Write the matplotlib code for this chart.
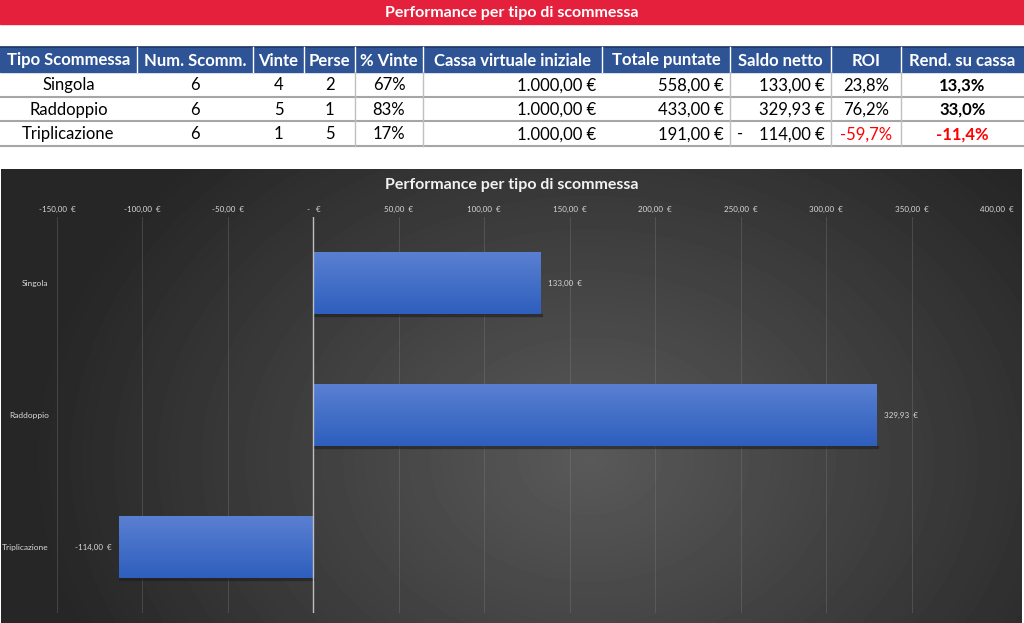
import matplotlib
matplotlib.use('Agg')
import matplotlib.pyplot as plt
from matplotlib.patches import Rectangle
import numpy as np

# data
tipi = ['Singola', 'Raddoppio', 'Triplicazione']
num_scommesse = [6, 6, 6]
vinte = [4, 5, 1]
perse = [2, 1, 5]
pct_vinte = [67, 83, 17]
cassa_iniziale = [1000.00, 1000.00, 1000.00]
totale_puntate = [558.00, 433.00, 191.00]
saldo_netto = [133.00, 329.93, -114.00]
roi = [23.8, 76.2, -59.7]
rend_cassa = [13.3, 33.0, -11.4]
headers = ['Tipo Scommessa', 'Num. Scomm.', 'Vinte', 'Perse', '% Vinte',
           'Cassa virtuale iniziale', 'Totale puntate', 'Saldo netto', 'ROI',
           'Rend. su cassa']
x_ticks = [-150, -100, -50, 0, 50, 100, 150, 200, 250, 300, 350, 400]
titolo = 'Performance per tipo di scommessa'

plt.rcParams['font.family'] = ['Lato', 'DejaVu Sans']


def it_num(v, dec):
    s = f'{abs(v):,.{dec}f}'
    s = s.replace(',', 'X').replace('.', ',').replace('X', '.')
    return ('-' if v < 0 else '') + s


def eur(v, sep=' '):
    return it_num(v, 2) + sep + '€'


W, H = 1024, 623
fig = plt.figure(figsize=(W / 100, H / 100), dpi=100)
bg = fig.add_axes([0, 0, 1, 1])
bg.set_xlim(0, W)
bg.set_ylim(H, 0)
bg.axis('off')

# red title bar
bg.add_patch(Rectangle((0, 0), W, 24, color='#E5203C', zorder=1))
bg.text(W / 2, 13, titolo, color='white', fontsize=11.5, fontweight='bold',
        ha='center', va='center', zorder=2)

# table
edges = [0, 137, 253, 304, 355, 423, 602, 730, 831, 901, 1024]
aligns = ['center', 'center', 'center', 'center', 'center', 'right', 'right',
          'right', 'center', 'center']
top, hh, rh = 47, 25, 24.5
bg.add_patch(Rectangle((0, top), W, hh, color='#2F5496', zorder=1))
bg.plot([0, W], [top, top], color='#1F3864', lw=1.2, zorder=2)
for i, h in enumerate(headers):
    bg.text((edges[i] + edges[i + 1]) / 2, top + hh / 2 + 1, h, color='white',
            fontsize=12, fontweight='bold', ha='center', va='center', zorder=3)
for x in edges[1:-1]:
    bg.plot([x, x], [top, top + hh], color='white', lw=1, zorder=2)

for r in range(len(tipi)):
    yc = top + hh + rh * r + rh / 2 + 1
    cells = [tipi[r], str(num_scommesse[r]), str(vinte[r]), str(perse[r]),
             f'{pct_vinte[r]}%', eur(cassa_iniziale[r]), eur(totale_puntate[r]),
             eur(abs(saldo_netto[r])), it_num(roi[r], 1) + '%',
             it_num(rend_cassa[r], 1) + '%']
    for c, txt in enumerate(cells):
        a = aligns[c]
        x = (edges[c] + edges[c + 1]) / 2 if a == 'center' else edges[c + 1] - 6
        color = 'black'
        weight = 'bold' if c == 9 else 'normal'
        if c == 8 and roi[r] < 0:
            color = '#FF0000'
        if c == 9 and rend_cassa[r] < 0:
            color = '#FF0000'
        bg.text(x, yc, txt, fontsize=12, color=color, fontweight=weight,
                ha=a, va='center', zorder=3)
    if saldo_netto[r] < 0:
        bg.text(edges[7] + 7, yc, '-', fontsize=12, ha='left', va='center')
    yb = top + hh + rh * (r + 1)
    bg.plot([0, W], [yb, yb], color='#A6A6A6', lw=1.5, zorder=2)
for x in [355, 423, 730, 831, 901]:
    bg.plot([x, x], [top + hh, top + hh + 3 * rh], color='#BFBFBF', lw=1, zorder=2)

# chart background with radial gradient
cx0, cx1, cy0, cy1 = 1, 1022, 169, 623
gx, gy = np.meshgrid(np.linspace(cx0, cx1, 300), np.linspace(cy0, cy1, 150))
d = np.sqrt(((gx - 590) / 560) ** 2 + ((gy - 460) / 430) ** 2)
shade = np.clip(0.35 - 0.2 * d, 0.15, 0.35)
bg.imshow(shade, cmap='gray', vmin=0, vmax=1, extent=[cx0, cx1, cy1, cy0],
          aspect='auto', zorder=0, interpolation='bilinear')
bg.text(512, 185, titolo, color='#F2F2F2', fontsize=11.5, fontweight='bold',
        ha='center', va='center', zorder=3)

# bar chart
ax = fig.add_axes([57 / W, 1 - 613 / H, (997 - 57) / W, (613 - 217) / H])
ax.patch.set_alpha(0)
ypos = np.arange(len(tipi))
bars = ax.barh(ypos, saldo_netto, height=0.47, color='#4472C4', zorder=3)
grad = np.linspace(0, 1, 64).reshape(-1, 1)
cmap = matplotlib.colors.LinearSegmentedColormap.from_list('b', ['#5A80D2', '#2E5FBD'])
for b in bars:
    x0, y0 = b.get_x(), b.get_y()
    w, hgt = b.get_width(), b.get_height()
    ax.add_patch(Rectangle((x0 + 0.5, y0 + hgt), w, 0.012, color='#1c1c1c',
                           alpha=0.45, zorder=2))
    im = ax.imshow(grad, cmap=cmap, aspect='auto', zorder=4,
                   extent=[x0, x0 + w, y0 + hgt, y0])
    im.set_clip_path(b)
for v, y in zip(saldo_netto, ypos):
    if v >= 0:
        ax.text(v + 4, y, eur(v, '  '), color='#D9D9D9', fontsize=5.8, ha='left', va='center')
    else:
        ax.text(v - 4, y, eur(v, '  '), color='#D9D9D9', fontsize=5.8, ha='right', va='center')

ax.set_xlim(-150, 400)
ax.set_ylim(len(tipi) - 0.5, -0.5)
ax.set_yticks(ypos)
ax.set_yticklabels(tipi)
ax.set_xticks(x_ticks)
ax.set_xticklabels(['-   €' if t == 0 else eur(t, '  ') for t in x_ticks])
ax.xaxis.tick_top()
ax.tick_params(axis='x', colors='#D9D9D9', labelsize=5.8, length=0, pad=3)
ax.tick_params(axis='y', colors='#D9D9D9', labelsize=6, length=0, pad=6)
ax.grid(axis='x', color='#8a8a8a', lw=0.6, alpha=0.35, zorder=1)
ax.axvline(0, color='#BFBFBF', lw=1, zorder=5)
for s in ax.spines.values():
    s.set_visible(False)

fig.savefig('out.png', dpi=100)
